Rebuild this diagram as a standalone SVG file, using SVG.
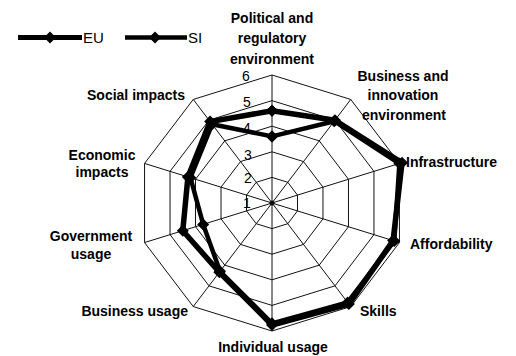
<svg xmlns="http://www.w3.org/2000/svg" width="516" height="356" viewBox="0 0 516 356">
<style>
.grid{fill:none;stroke:#111;stroke-width:1}
.ser{fill:none;stroke:#000;stroke-linejoin:round}
.lbl{font-family:"Liberation Sans",Arial,sans-serif;font-weight:bold;font-size:14px;fill:#000}
.num{font-family:"Liberation Sans",Arial,sans-serif;font-size:14px;fill:#000;text-anchor:middle}
.leg{font-family:"Liberation Sans",Arial,sans-serif;font-size:15px;fill:#000}
</style>
<defs>
<marker id="dia" markerUnits="userSpaceOnUse" markerWidth="14" markerHeight="14" refX="7" refY="7" orient="0">
<path d="M7,1 L13,7 L7,13 L1,7 Z" fill="#000"/>
</marker>
</defs>
<rect width="516" height="356" fill="#fff"/>
<g id="grid">
<polygon class="grid" points="272,75 350.76,99.45 399.45,163.45 399.45,242.55 350.76,306.55 272,331 193.24,306.55 144.55,242.55 144.55,163.45 193.24,99.45"/>
<polygon class="grid" points="272,100.6 335.01,120.16 373.96,171.36 373.96,234.64 335.01,285.84 272,305.4 208.99,285.84 170.04,234.64 170.04,171.36 208.99,120.16"/>
<polygon class="grid" points="272,126.2 319.26,140.87 348.47,179.27 348.47,226.73 319.26,265.13 272,279.8 224.74,265.13 195.53,226.73 195.53,179.27 224.74,140.87"/>
<polygon class="grid" points="272,151.8 303.51,161.58 322.98,187.18 322.98,218.82 303.51,244.42 272,254.2 240.49,244.42 221.02,218.82 221.02,187.18 240.49,161.58"/>
<polygon class="grid" points="272,177.4 287.75,182.29 297.49,195.09 297.49,210.91 287.75,223.71 272,228.6 256.25,223.71 246.51,210.91 246.51,195.09 256.25,182.29"/>
<path class="grid" d="M272,203 L272,75 M272,203 L350.76,99.45 M272,203 L399.45,163.45 M272,203 L399.45,242.55 M272,203 L350.76,306.55 M272,203 L272,331 M272,203 L193.24,306.55 M272,203 L144.55,242.55 M272,203 L144.55,163.45 M272,203 L193.24,99.45"/>
<circle cx="272" cy="203" r="2.5" fill="#111"/>
</g>
<g id="scale">
<text class="num" x="247" y="208">1</text>
<text class="num" x="248" y="183">2</text>
<text class="num" x="248" y="160">3</text>
<text class="num" x="247" y="133">4</text>
<text class="num" x="247" y="107">5</text>
<text class="num" x="246" y="81">6</text>
</g>
<g id="connectors">
<polygon id="series-EU" class="ser" stroke-width="5.5" marker-start="url(#dia)" marker-mid="url(#dia)" marker-end="url(#dia)" points="272,110.8 335,120.2 402,162.7 393.1,240.6 348.9,304.1 272,325 219.4,272.2 182.8,230.7 187.9,176.9 210.1,121.6"/>
<polygon id="series-SI" class="ser" stroke-width="4.5" marker-start="url(#dia)" marker-mid="url(#dia)" marker-end="url(#dia)" points="272,136.4 334.2,121.2 399.4,163.5 394.3,241 347.6,302.4 272,323.3 220,271.3 203.2,224.4 190.4,177.7 212.1,124.3"/>
</g>
<g id="legend">
<g id="legend-EU">
<line x1="18" y1="37.5" x2="82" y2="37.5" stroke="#000" stroke-width="5" marker-mid="url(#dia)"/>
<path d="M50,31.5 L56,37.5 L50,43.5 L44,37.5 Z" fill="#000"/>
<text class="leg" x="83" y="43">EU</text>
</g>
<g id="legend-SI">
<line x1="125" y1="37.5" x2="187" y2="37.5" stroke="#000" stroke-width="4.5"/>
<path d="M155,31.5 L161,37.5 L155,43.5 L149,37.5 Z" fill="#000"/>
<text class="leg" x="188" y="43">SI</text>
</g>
</g>
<g id="node-political"><text class="lbl" text-anchor="middle"><tspan x="272" y="23">Political and</tspan><tspan x="272" y="43">regulatory</tspan><tspan x="272" y="64">environment</tspan></text></g>
<g id="node-business-innovation"><text class="lbl" text-anchor="middle"><tspan x="403" y="81">Business and</tspan><tspan x="403" y="100">innovation</tspan><tspan x="404" y="120">environment</tspan></text></g>
<g id="node-infrastructure"><text class="lbl" x="406" y="167">Infrastructure</text></g>
<g id="node-affordability"><text class="lbl" x="410" y="249">Affordability</text></g>
<g id="node-skills"><text class="lbl" x="360" y="316">Skills</text></g>
<g id="node-individual"><text class="lbl" x="273" y="352" text-anchor="middle">Individual usage</text></g>
<g id="node-business-usage"><text class="lbl" x="188" y="316" text-anchor="end">Business usage</text></g>
<g id="node-government"><text class="lbl" text-anchor="middle"><tspan x="91" y="241">Government</tspan><tspan x="91" y="259">usage</tspan></text></g>
<g id="node-economic"><text class="lbl" text-anchor="middle"><tspan x="102" y="160">Economic</tspan><tspan x="102" y="177">impacts</tspan></text></g>
<g id="node-social"><text class="lbl" x="87" y="100">Social impacts</text></g>
</svg>
